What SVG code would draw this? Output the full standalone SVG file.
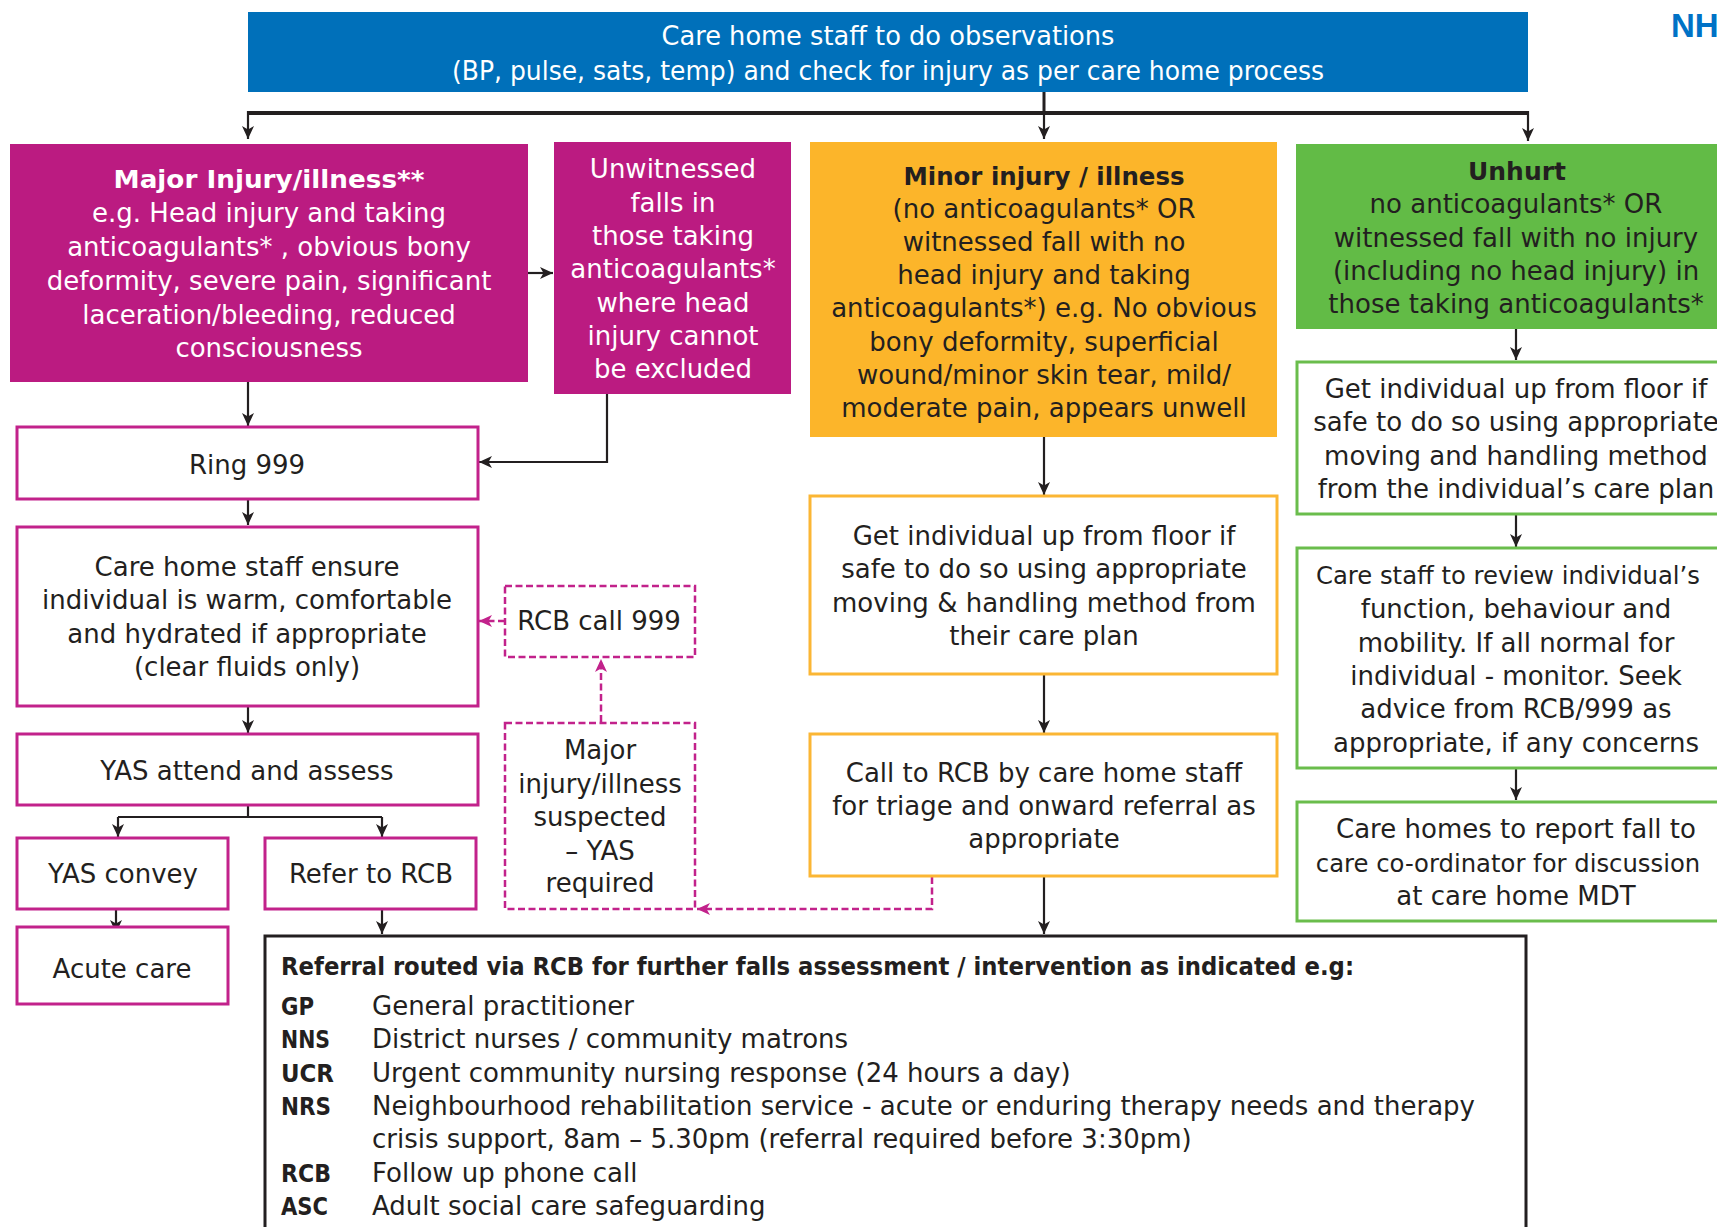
<svg xmlns="http://www.w3.org/2000/svg" width="1717" height="1227" viewBox="0 0 1717 1227">
<style>
text{font-family:"DejaVu Sans","Liberation Sans",sans-serif;font-size:26px;fill:#231F20;text-anchor:middle}
.w{fill:#fff}
.b{font-weight:700;font-size:25px}
.l{text-anchor:start}
.s{font-size:24.3px}
.fm{fill:#BB1B81}
.om{fill:#fff;stroke:#C2228B;stroke-width:3}
.dm{fill:none;stroke:#C2228B;stroke-width:2.5;stroke-dasharray:7 3.5}
.oo{fill:#fff;stroke:#FBB634;stroke-width:3}
.og{fill:#fff;stroke:#6ABD4C;stroke-width:3}
.c{fill:none;stroke:#231F20;stroke-width:2.2}
.cd{fill:none;stroke:#C2228B;stroke-width:2.5;stroke-dasharray:7 3.5}
</style>
<defs>
<marker id="ah" markerUnits="userSpaceOnUse" markerWidth="14" markerHeight="12" refX="13" refY="6" orient="auto"><path d="M0,0 L13,6 L0,12 L3.5,6 z" fill="#231F20"/></marker>
<marker id="am" markerUnits="userSpaceOnUse" markerWidth="14" markerHeight="12" refX="13" refY="6" orient="auto"><path d="M0,0 L13,6 L0,12 L3.5,6 z" fill="#C2228B"/></marker>
</defs>
<rect width="1717" height="1227" fill="#fff"/>
<text x="1671" y="37" style="fill:#0072C6;font-family:'Liberation Sans',sans-serif;font-weight:700;font-size:33px;text-anchor:start">NH</text>

<g id="connectors">
<path class="c" d="M1044,92 V113" style="stroke-width:3"/>
<path class="c" d="M248,113 H1528" style="stroke-width:4"/>
<path class="c" d="M248,111 V139" marker-end="url(#ah)"/>
<path class="c" d="M1044,113 V139" marker-end="url(#ah)"/>
<path class="c" d="M1528,111 V141" marker-end="url(#ah)"/>
<path class="c" d="M528,273 H553" marker-end="url(#ah)"/>
<path class="c" d="M248,382 V426" marker-end="url(#ah)"/>
<path class="c" d="M607,394 V462 H479" marker-end="url(#ah)"/>
<path class="c" d="M248,499 V525" marker-end="url(#ah)"/>
<path class="c" d="M248,706 V733" marker-end="url(#ah)"/>
<path class="c" d="M248,805 V817"/>
<path class="c" d="M118,817 H382"/>
<path class="c" d="M118,817 V837" marker-end="url(#ah)"/>
<path class="c" d="M382,817 V837" marker-end="url(#ah)"/>
<path class="c" d="M116,909 V933" marker-end="url(#ah)"/>
<path class="c" d="M382,909 V934" marker-end="url(#ah)"/>
<path class="c" d="M1044,437 V495" marker-end="url(#ah)"/>
<path class="c" d="M1044,674 V733" marker-end="url(#ah)"/>
<path class="c" d="M1044,876 V934" marker-end="url(#ah)"/>
<path class="c" d="M1516,329 V360" marker-end="url(#ah)"/>
<path class="c" d="M1516,514 V547" marker-end="url(#ah)"/>
<path class="c" d="M1516,768 V800" marker-end="url(#ah)"/>
<path class="cd" d="M932,877 V909 H697" marker-end="url(#am)"/>
<path class="cd" d="M601,722 V659" marker-end="url(#am)"/>
<path class="cd" d="M505,621 H479" marker-end="url(#am)"/>
</g>

<g id="top">
<rect x="248" y="12" width="1280" height="80" fill="#0070BA"/>
<text class="w" x="888" y="45" textLength="453" lengthAdjust="spacingAndGlyphs">Care home staff to do observations</text>
<text class="w" x="888" y="79.5" textLength="872" lengthAdjust="spacingAndGlyphs">(BP, pulse, sats, temp) and check for injury as per care home process</text>
</g>

<g id="major">
<rect class="fm" x="10" y="144" width="518" height="238"/>
<text class="w b" x="269" y="188" textLength="311" lengthAdjust="spacingAndGlyphs">Major Injury/illness**</text>
<text class="w" x="269" y="222">e.g. Head injury and taking</text>
<text class="w" x="269" y="256">anticoagulants* , obvious bony</text>
<text class="w" x="269" y="290">deformity, severe pain, significant</text>
<text class="w" x="269" y="323.5">laceration/bleeding, reduced</text>
<text class="w" x="269" y="357">consciousness</text>
</g>

<g id="unwitnessed">
<rect class="fm" x="554" y="142" width="237" height="252"/>
<text class="w" x="673" y="178.3">Unwitnessed</text>
<text class="w" x="673" y="211.7">falls in</text>
<text class="w" x="673" y="245">those taking</text>
<text class="w" x="673" y="278.3">anticoagulants*</text>
<text class="w" x="673" y="311.7">where head</text>
<text class="w" x="673" y="345">injury cannot</text>
<text class="w" x="673" y="378.3">be excluded</text>
</g>

<g id="minor">
<rect x="810" y="142" width="467" height="295" fill="#FCB52A"/>
<text class="b" x="1044" y="185" textLength="281" lengthAdjust="spacingAndGlyphs">Minor injury / illness</text>
<text x="1044" y="218.1">(no anticoagulants* OR</text>
<text x="1044" y="251.2">witnessed fall with no</text>
<text x="1044" y="284.3">head injury and taking</text>
<text x="1044" y="317.4">anticoagulants*) e.g. No obvious</text>
<text x="1044" y="350.5">bony deformity, superficial</text>
<text x="1044" y="383.6">wound/minor skin tear, mild/</text>
<text x="1044" y="416.7">moderate pain, appears unwell</text>
</g>

<g id="unhurt">
<rect x="1296" y="144" width="500" height="185" fill="#62BB46"/>
<text class="b" x="1517" y="180" textLength="98" lengthAdjust="spacingAndGlyphs">Unhurt</text>
<text x="1516" y="213.3">no anticoagulants* OR</text>
<text x="1516" y="246.7">witnessed fall with no injury</text>
<text x="1516" y="280">(including no head injury) in</text>
<text x="1516" y="313.3">those taking anticoagulants*</text>
</g>

<g id="green-getup">
<rect class="og" x="1297" y="362" width="500" height="152"/>
<text x="1516" y="398">Get individual up from floor if</text>
<text x="1516" y="431.3">safe to do so using appropriate</text>
<text x="1516" y="464.6">moving and handling method</text>
<text x="1516" y="497.9">from the individual’s care plan</text>
</g>

<g id="green-review">
<rect class="og" x="1297" y="548" width="500" height="220"/>
<text class="s" x="1508" y="584.3">Care staff to review individual’s</text>
<text x="1516" y="618">function, behaviour and</text>
<text x="1516" y="651.5">mobility. If all normal for</text>
<text x="1516" y="685">individual - monitor. Seek</text>
<text x="1516" y="718.3">advice from RCB/999 as</text>
<text x="1516" y="751.7">appropriate, if any concerns</text>
</g>

<g id="green-report">
<rect class="og" x="1297" y="802" width="500" height="119"/>
<text x="1516" y="838.3">Care homes to report fall to</text>
<text class="s" x="1508" y="871.7">care co-ordinator for discussion</text>
<text x="1516" y="905">at care home MDT</text>
</g>

<g id="orange-getup">
<rect class="oo" x="810" y="496" width="467" height="178"/>
<text x="1044" y="545">Get individual up from floor if</text>
<text x="1044" y="578.3">safe to do so using appropriate</text>
<text x="1044" y="611.7">moving &amp; handling method from</text>
<text x="1044" y="645">their care plan</text>
</g>

<g id="orange-call">
<rect class="oo" x="810" y="734" width="467" height="142"/>
<text x="1044" y="781.7">Call to RCB by care home staff</text>
<text x="1044" y="815">for triage and onward referral as</text>
<text x="1044" y="848.3">appropriate</text>
</g>

<g id="ring999">
<rect class="om" x="17" y="427" width="461" height="72"/>
<text x="247" y="474">Ring 999</text>
</g>

<g id="ensure">
<rect class="om" x="17" y="527" width="461" height="179"/>
<text x="247" y="576">Care home staff ensure</text>
<text x="247" y="609.3">individual is warm, comfortable</text>
<text x="247" y="642.7">and hydrated if appropriate</text>
<text x="247" y="676">(clear fluids only)</text>
</g>

<g id="yas-attend">
<rect class="om" x="17" y="734" width="461" height="71"/>
<text x="247" y="780">YAS attend and assess</text>
</g>

<g id="yas-convey">
<rect class="om" x="17" y="838" width="211" height="71"/>
<text x="123" y="883">YAS convey</text>
</g>

<g id="refer-rcb">
<rect class="om" x="265" y="838" width="211" height="71"/>
<text x="371" y="883">Refer to RCB</text>
</g>

<g id="acute">
<rect class="om" x="17" y="927" width="211" height="77"/>
<text x="122" y="978">Acute care</text>
</g>

<g id="rcb-call">
<rect class="dm" x="505" y="586" width="190" height="71"/>
<text x="599" y="630">RCB call 999</text>
</g>

<g id="major-suspected">
<rect class="dm" x="505" y="723" width="190" height="186"/>
<text x="600" y="759">Major</text>
<text x="600" y="792.5">injury/illness</text>
<text x="600" y="826">suspected</text>
<text x="600" y="859.5">– YAS</text>
<text x="600" y="892">required</text>
</g>

<g id="referral">
<rect x="265" y="936" width="1261" height="320" fill="#fff" stroke="#231F20" stroke-width="3"/>
<text class="b l" x="281" y="975" textLength="1073" lengthAdjust="spacingAndGlyphs">Referral routed via RCB for further falls assessment / intervention as indicated e.g:</text>
<text class="b l" x="281" y="1015" textLength="33" lengthAdjust="spacingAndGlyphs">GP</text>
<text class="l" x="372" y="1015">General practitioner</text>
<text class="b l" x="281" y="1048.3" textLength="49" lengthAdjust="spacingAndGlyphs">NNS</text>
<text class="l" x="372" y="1048.3">District nurses / community matrons</text>
<text class="b l" x="281" y="1081.7" textLength="53" lengthAdjust="spacingAndGlyphs">UCR</text>
<text class="l" x="372" y="1081.7">Urgent community nursing response (24 hours a day)</text>
<text class="b l" x="281" y="1115" textLength="50" lengthAdjust="spacingAndGlyphs">NRS</text>
<text class="l" x="372" y="1115">Neighbourhood rehabilitation service - acute or enduring therapy needs and therapy</text>
<text class="l" x="372" y="1148.3">crisis support, 8am – 5.30pm (referral required before 3:30pm)</text>
<text class="b l" x="281" y="1181.7" textLength="50" lengthAdjust="spacingAndGlyphs">RCB</text>
<text class="l" x="372" y="1181.7">Follow up phone call</text>
<text class="b l" x="281" y="1215" textLength="47" lengthAdjust="spacingAndGlyphs">ASC</text>
<text class="l" x="372" y="1215">Adult social care safeguarding</text>
</g>
</svg>
